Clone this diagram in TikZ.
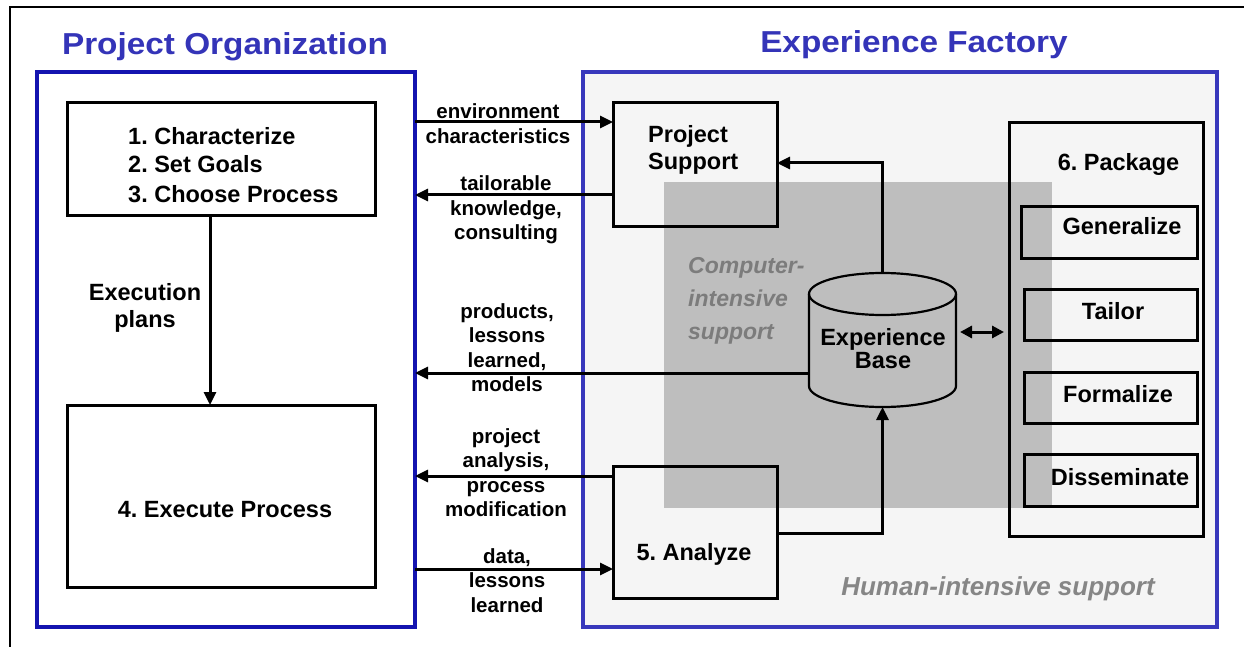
\documentclass[tikz,border=0pt]{standalone}
\usepackage{fontspec}
\setmainfont{Liberation Sans}
\newfontfamily\titlefont{Liberation Sans Bold}[FakeStretch=1.1]
\usetikzlibrary{arrows.meta}
\definecolor{leftblue}{HTML}{1414B0}
\definecolor{rightblue}{HTML}{3838BC}
\definecolor{titleblue}{HTML}{3434B8}
\definecolor{efbg}{HTML}{F5F5F5}
\definecolor{cisgray}{HTML}{BEBEBE}
\definecolor{cgray}{HTML}{7C7C7C}
\definecolor{hgray}{HTML}{868686}
\frenchspacing
\begin{document}
\begin{tikzpicture}[x=1pt,y=-1pt,
  box/.style={draw=black, line width=3pt, rectangle, inner sep=0pt, outer sep=0pt},
  arr/.style={line width=3pt, -{Triangle[length=13pt,width=12pt]}},
  dblarr/.style={line width=3pt, {Triangle[length=12pt,width=12pt]}-{Triangle[length=12pt,width=12pt]}},
  lbl/.style={font=\fontsize{20.5}{24.5}\selectfont\bfseries, align=center, inner sep=0pt},
  btxt/.style={font=\fontsize{23.5}{27}\selectfont\bfseries, inner sep=0pt},
  ttl/.style={font=\titlefont\fontsize{30.3}{36}\selectfont, text=titleblue, anchor=base, inner sep=0pt},
  ]
\useasboundingbox (0,0) rectangle (1244,647);
\fill[white] (0,0) rectangle (1244,647);
% outer frame
\draw[line width=2.5pt] (10,647) -- (10,7) -- (1244,7);
% titles
\node[ttl] (t1) at (225,55) {Project Organization};
\node[ttl] (t2) at (914,53) {Experience Factory};
% main containers
\node[draw=leftblue, line width=4.5pt, fill=white, inner sep=0pt, outer sep=0pt,
      minimum width=378pt, minimum height=555pt] (po) at (226,349.5) {};
\node[draw=rightblue, line width=4.5pt, fill=efbg, inner sep=0pt, outer sep=0pt,
      minimum width=634pt, minimum height=555pt] (ef) at (900,349.5) {};
% computer-intensive region
\fill[cisgray] (664,182) rectangle (1052,508);
\node[font=\fontsize{23}{33}\selectfont\bfseries\itshape, text=cgray, align=left,
      anchor=west, inner sep=0pt] (cis) at (688,299.4)
      {\strut Computer-\\\strut intensive\\\strut support};
\node[font=\fontsize{26}{30}\selectfont\bfseries\itshape, text=hgray, anchor=base,
      inner sep=0pt] (his) at (998,595) {Human-intensive support};
% left boxes
\node[box, minimum width=308pt, minimum height=112pt] (b1) at (221,159) {};
\node[btxt, font=\fontsize{23.5}{29}\selectfont\bfseries, align=left, anchor=west] (b1t) at (128,167.2)
      {\strut 1. Characterize\\\strut 2. Set Goals\\\strut 3. Choose Process};
\node[box, minimum width=308pt, minimum height=182pt] (b4) at (221,496) {};
\node[btxt, anchor=base] (b4t) at (225,517) {4. Execute Process};
\node[btxt, align=center] (ept) at (145,308.1) {\strut Execution\\\strut plans};
% experience factory boxes
\node[box, minimum width=164pt, minimum height=123pt] (ps) at (695,164.5) {};
\node[btxt, align=left, anchor=west] (pst) at (648,151.1) {\strut Project\\\strut Support};
\node[box, minimum width=164pt, minimum height=132pt] (an) at (695,532) {};
\node[btxt, anchor=base] (ant) at (694,560) {5. Analyze};
% cylinder
\draw[line width=2.2pt] (809,294) -- (809,386) arc[start angle=180, end angle=360, x radius=73.5pt, y radius=21pt] -- (956,294);
\draw[line width=2.2pt] (882.5,294) ellipse [x radius=73.5pt, y radius=21pt];
\node[inner sep=0pt, outer sep=0pt, minimum width=147pt, minimum height=134pt] (eb) at (882.5,340) {};
\node[btxt, font=\fontsize{23.5}{23.5}\selectfont\bfseries, align=center] (ebt) at (883,351.8)
      {\strut Experience\\\strut Base};
% package
\node[box, minimum width=194pt, minimum height=413pt] (pk) at (1106,329.5) {};
\node[btxt, anchor=base] (pkt) at (1118.5,171) {6. Package};
\node[box, minimum width=176pt, minimum height=52pt] (gen) at (1109,232) {};
\node[btxt, anchor=base] (gent) at (1122,234) {Generalize};
\node[box, minimum width=173pt, minimum height=51pt] (tai) at (1110.5,314.5) {};
\node[btxt, anchor=base] (tait) at (1113,319) {Tailor};
\node[box, minimum width=173pt, minimum height=51pt] (frm) at (1110.5,397.5) {};
\node[btxt, anchor=base] (frmt) at (1118,402) {Formalize};
\node[box, minimum width=173pt, minimum height=52pt] (dis) at (1110.5,480) {};
\node[btxt, anchor=base] (dist) at (1120,485) {Disseminate};
% connectors
\draw[arr] (b1.south -| 210,0) -- (b4.north -| 210,0);
\draw[arr] (po.east |- 0,122) -- (ps.west |- 0,122);
\draw[arr] (ps.west |- 0,195) -- (po.east |- 0,195);
\draw[arr] (eb.west |- 0,373) -- (po.east |- 0,373);
\draw[arr] (an.west |- 0,476) -- (po.east |- 0,476);
\draw[arr] (po.east |- 0,569) -- (an.west |- 0,569);
\draw[arr] (eb.north) |- (ps.east |- 0,163);
\draw[arr] (an.east |- 0,533) -| (eb.south);
\draw[dblarr] ([xshift=4pt]eb.east |- 0,332) -- ([xshift=-5pt]pk.west |- 0,332);
% connector labels
\node[lbl] (l1) at (498,126.1) {\strut environment\\\strut characteristics};
\node[lbl] (l2) at (506,210.1) {\strut tailorable\\\strut knowledge,\\\strut consulting};
\node[lbl] (l3) at (507,350.1) {\strut products,\\\strut lessons\\\strut learned,\\\strut models};
\node[lbl] (l4) at (506,475.1) {\strut project\\\strut analysis,\\\strut process\\\strut modification};
\node[lbl] (l5) at (507,582.6) {\strut data,\\\strut lessons\\\strut learned};
\end{tikzpicture}
\end{document}
